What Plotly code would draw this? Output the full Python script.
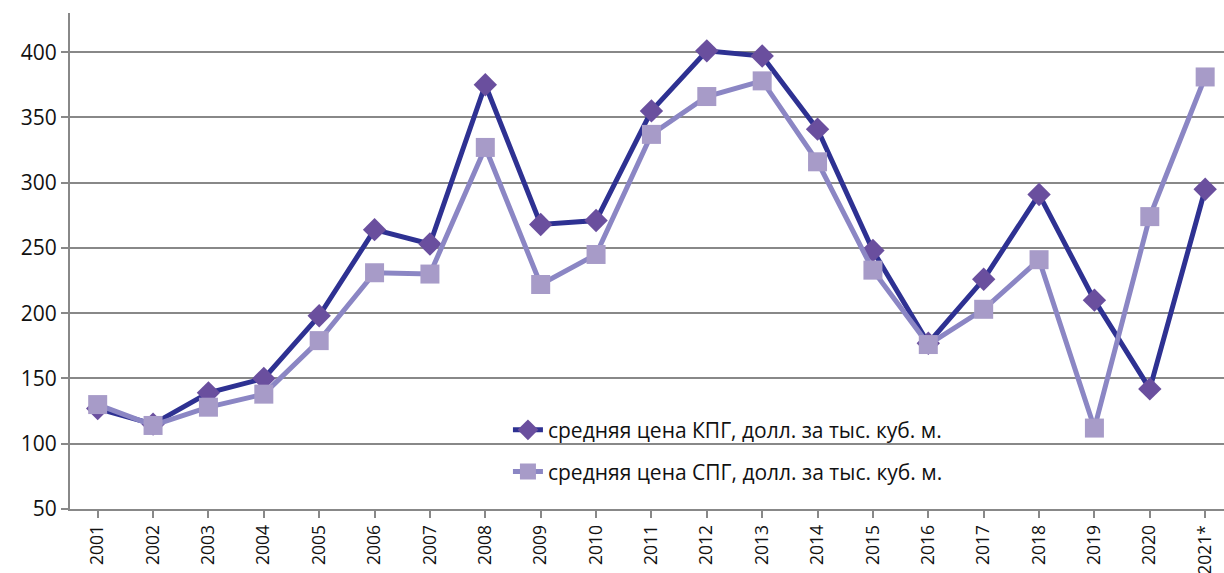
import plotly.graph_objects as go

years = ["2001", "2002", "2003", "2004", "2005", "2006", "2007", "2008", "2009", "2010",
         "2011", "2012", "2013", "2014", "2015", "2016", "2017", "2018", "2019", "2020", "2021*"]
kpg_price = [127, 115, 139, 150, 198, 264, 253, 375, 268, 271,
             355, 401, 397, 341, 248, 177, 226, 291, 210, 142, 295]
spg_price = [130, 114, 128, 138, 179, 231, 230, 327, 222, 245,
             337, 366, 378, 316, 233, 176, 203, 241, 112, 274, 381]
y_ticks = [50, 100, 150, 200, 250, 300, 350, 400]

x_idx = list(range(len(years)))

FONT = "Open Sans"
FSIZE = 21

fig = go.Figure()
fig.add_trace(go.Scatter(
    x=x_idx, y=kpg_price, mode="lines+markers",
    name="средняя цена КПГ, долл. за тыс. куб. м.",
    line=dict(color="#2E3192", width=5),
    marker=dict(symbol="diamond", size=18, color="#6A4F9E"),
    legend="legend", showlegend=True,
))
fig.add_trace(go.Scatter(
    x=x_idx, y=spg_price, mode="lines+markers",
    name="средняя цена СПГ, долл. за тыс. куб. м.",
    line=dict(color="#8B86C4", width=5),
    marker=dict(symbol="square", size=19, color="#A79BC8"),
    legend="legend2", showlegend=True,
))

fig.update_layout(
    width=1224, height=573,
    margin=dict(l=70, r=0, t=13, b=64),
    paper_bgcolor="white", plot_bgcolor="white",
    showlegend=True,
    font=dict(family=FONT, size=FSIZE, color="#111111"),
    legend=dict(x=0.3795, y=0.159, xanchor="left", yanchor="middle",
                bgcolor="rgba(0,0,0,0)", font=dict(size=FSIZE, family=FONT)),
    legend2=dict(x=0.3795, y=0.075, xanchor="left", yanchor="middle",
                 bgcolor="rgba(0,0,0,0)", font=dict(size=FSIZE, family=FONT)),
)
fig.update_xaxes(
    range=[-0.5, 20.34], automargin=False,
    tickmode="array", tickvals=x_idx, ticktext=years,
    tickangle=-90, tickson="boundaries", ticks="outside", ticklen=7,
    tickcolor="#888888", tickwidth=2,
    showline=True, linecolor="#888888", linewidth=2,
    showgrid=False, zeroline=False,
    tickfont=dict(size=17.5, family=FONT),
)
fig.update_yaxes(
    range=[50, 430], automargin=False,
    tickmode="array", tickvals=y_ticks,
    ticks="outside", ticklen=7, tickcolor="#888888", tickwidth=2,
    showline=True, linecolor="#888888", linewidth=2,
    showgrid=True, gridcolor="#888888", gridwidth=2,
    zeroline=False,
    tickfont=dict(size=FSIZE, family=FONT),
)

fig.write_html("out.html")
